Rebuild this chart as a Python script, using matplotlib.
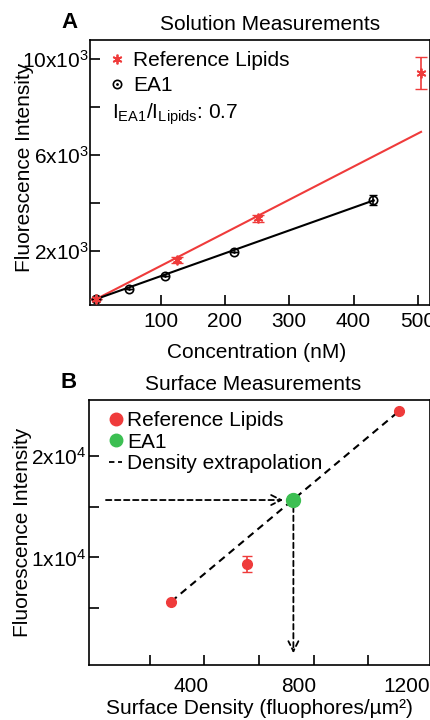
import matplotlib
matplotlib.use("Agg")
import matplotlib.pyplot as plt
from matplotlib.lines import Line2D

plt.rcParams['font.family'] = ['Liberation Sans', 'DejaVu Sans']
plt.rcParams['mathtext.fontset'] = 'custom'
plt.rcParams['mathtext.rm'] = 'Liberation Sans'
plt.rcParams['mathtext.it'] = 'Liberation Sans:italic'
plt.rcParams['font.size'] = 15

# ---- panel A: solution measurements ----
lipid_conc = [0, 126, 252, 505]
lipid_int = [0, 1630, 3360, 9430]
lipid_err = [0, 120, 150, 680]
ea1_conc = [0, 51, 106, 214, 430]
ea1_int = [0, 420, 970, 1980, 4120]
ea1_err = [0, 0, 0, 0, 200]
lipid_fit_x = [0, 505]
lipid_fit_y = [0, 6970]
ea1_fit_x = [0, 430]
ea1_fit_y = [0, 4100]
a_xticks = [100, 200, 300, 400, 500]
a_yticks = [2000, 6000, 10000]
a_yticklabels = [r'$\mathregular{2x10^3}$', r'$\mathregular{6x10^3}$', r'$\mathregular{10x10^3}$']
a_yminor = [4000, 8000]

# ---- panel B: surface measurements ----
ref_density = [326, 609, 1172]
ref_int = [5640, 9350, 24400]
ref_err = [0, 800, 0]
ea1_density = [780]
ea1_surf_int = [15650]
extrap_x = [326, 1172]
extrap_y = [5640, 24400]
b_xtick_marks = [248, 449, 654, 857, 1058]
b_xticklabels = [400, 800, 1200]
b_yticks = [10000, 20000]
b_yticklabels = [r'$\mathregular{1x10^4}$', r'$\mathregular{2x10^4}$']
b_yminor = [5000, 15000]

red = '#ef3b3b'
green = '#3cbf52'
fs = 15

fig = plt.figure(figsize=(4.31, 7.2), dpi=100)

axA = fig.add_axes([0.2088, 0.5764, 0.789, 0.368])
axA.plot(lipid_fit_x, lipid_fit_y, color=red, lw=1.5, zorder=2)
axA.plot(ea1_fit_x, ea1_fit_y, color='black', lw=1.5, zorder=2)
axA.errorbar(lipid_conc, lipid_int, yerr=lipid_err, fmt='none', ecolor=red,
             elinewidth=1.2, capsize=4, zorder=3)
axA.errorbar(ea1_conc, ea1_int, yerr=ea1_err, fmt='none', ecolor='black',
             elinewidth=1.2, capsize=3, zorder=3)
axA.plot(ea1_conc, ea1_int, 'o', ms=6, mfc='none', mec='black', mew=1.2, zorder=4)
axA.plot(ea1_conc, ea1_int, '.', ms=2, color='black', zorder=4)
axA.plot(lipid_conc, lipid_int, ls='none', marker=(6, 2, 0), ms=7, mec=red,
         mew=1.3, zorder=5)
axA.set_xlim(-10, 519)
axA.set_ylim(-250, 10800)
axA.set_xticks(a_xticks)
axA.set_yticks(a_yticks)
axA.set_yticklabels(a_yticklabels)
axA.set_yticks(a_yminor, minor=True)
axA.tick_params(direction='in', length=7, width=1.2, labelsize=fs)
axA.tick_params(axis='x', pad=5)
axA.tick_params(axis='y', pad=1)
axA.tick_params(which='minor', direction='in', length=7, width=1.2)
axA.set_xlabel('Concentration (nM)')
axA.set_ylabel('Fluorescence Intensity')
axA.xaxis.set_label_coords(0.49, -0.143)
axA.yaxis.set_label_coords(-0.166, 0.52)
axA.set_title('Solution Measurements', fontsize=fs, pad=7, x=0.53)
axA.text(-0.06, 1.065, 'A', transform=axA.transAxes, fontsize=16,
         fontweight='bold', ha='center', va='center')

h_lip = Line2D([], [], ls='none', marker=(6, 2, 0), ms=7, mec=red, mew=1.3)
h_ea1 = (Line2D([], [], ls='none', marker='o', ms=6, mfc='none', mec='black', mew=1.2),
         Line2D([], [], ls='none', marker='.', ms=2, color='black'))
axA.legend([h_lip, h_ea1], ['Reference Lipids', 'EA1'], loc='upper left',
           bbox_to_anchor=(0.037, 0.99), frameon=False, handlelength=0.6,
           handletextpad=0.45, labelspacing=0.3, fontsize=fs, borderaxespad=0)
axA.text(0.065, 0.72, r'$\mathregular{I_{EA1}/I_{Lipids}}$: 0.7', transform=axA.transAxes,
         fontsize=fs, ha='left', va='center')

for s in axA.spines.values():
    s.set_linewidth(1.2)

axB = fig.add_axes([0.2065, 0.0764, 0.791, 0.368])
axB.plot(extrap_x, extrap_y, color='black', ls=(0, (3.5, 2.5)), lw=1.5, zorder=2)
axB.annotate('', xy=(742, ea1_surf_int[0]), xytext=(84, ea1_surf_int[0]),
             arrowprops=dict(arrowstyle='->', color='black', lw=1.3, ls=(0, (3, 2)),
                             mutation_scale=18, shrinkA=0, shrinkB=0))
axB.annotate('', xy=(ea1_density[0], 560), xytext=(ea1_density[0], 15000),
             arrowprops=dict(arrowstyle='->', color='black', lw=1.3, ls=(0, (3, 2)),
                             mutation_scale=18, shrinkA=0, shrinkB=0))
axB.errorbar(ref_density, ref_int, yerr=ref_err, fmt='none', ecolor=red,
             elinewidth=1.2, capsize=3.5, zorder=3)
axB.plot(ref_density, ref_int, 'o', color=red, ms=7, zorder=4)
axB.plot(ea1_density, ea1_surf_int, 'o', color=green, ms=10, zorder=4)
axB.set_xlim(21, 1287)
axB.set_ylim(-600, 25500)
axB.set_xticks(b_xticklabels)
axB.set_xticklabels([str(v) for v in b_xticklabels])
axB.set_xticks(b_xtick_marks, minor=True)
axB.tick_params(axis='x', which='major', length=0, pad=9, labelsize=fs)
axB.tick_params(axis='x', which='minor', direction='in', length=7, width=1.2)
axB.set_yticks(b_yticks)
axB.set_yticklabels(b_yticklabels)
axB.set_yticks(b_yminor, minor=True)
axB.tick_params(axis='y', which='both', direction='in', length=7, width=1.2, pad=2,
                labelsize=fs)
axB.set_xlabel('Surface Density (fluophores/µm²)')
axB.set_ylabel('Fluorescence Intensity')
axB.xaxis.set_label_coords(0.5, -0.13)
axB.yaxis.set_label_coords(-0.166, 0.5)
axB.set_title('Surface Measurements', fontsize=fs, pad=7, x=0.48)
axB.text(-0.06, 1.065, 'B', transform=axB.transAxes, fontsize=16,
         fontweight='bold', ha='center', va='center')

hb_ref = Line2D([], [], ls='none', marker='o', color=red, ms=9)
hb_ea1 = Line2D([], [], ls='none', marker='o', color=green, ms=9)
hb_ext = Line2D([], [], color='black', ls=(0, (3, 2)), lw=1.3)
axB.legend([hb_ref, hb_ea1, hb_ext], ['Reference Lipids', 'EA1', 'Density extrapolation'],
           loc='upper left', bbox_to_anchor=(0.035, 0.99), frameon=False,
           handlelength=0.6, handletextpad=0.25, labelspacing=0.12, fontsize=fs,
           borderaxespad=0)

for s in axB.spines.values():
    s.set_linewidth(1.2)

fig.savefig('out.png', dpi=100)
